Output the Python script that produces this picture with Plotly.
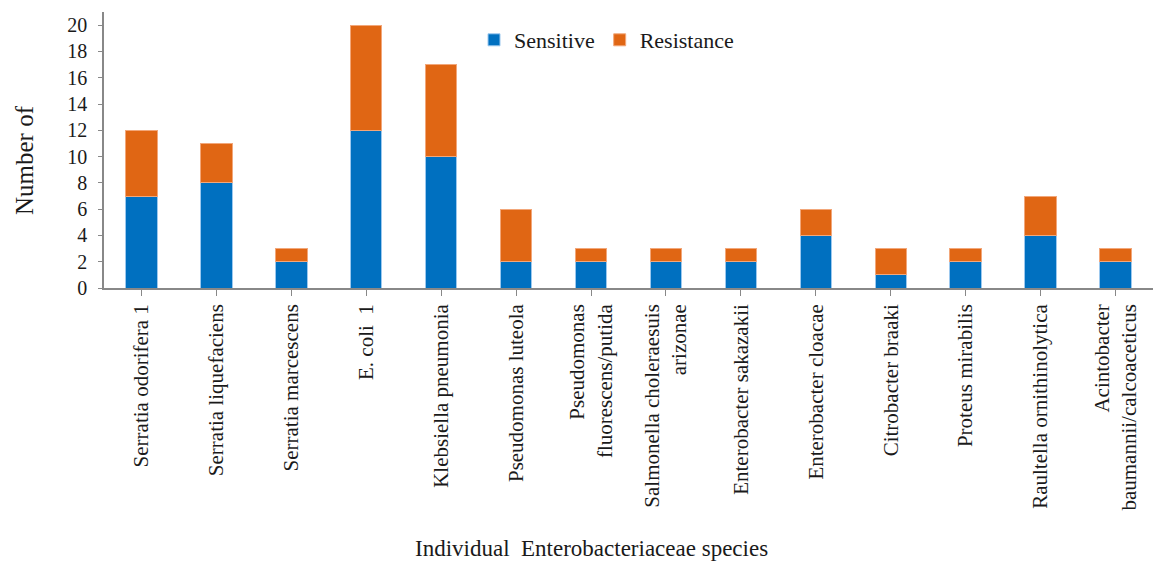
import plotly.graph_objects as go

categories = [
    "Serratia odorifera 1",
    "Serratia liquefaciens",
    "Serratia marcescens",
    "E. coli  1",
    "Klebsiella pneumonia",
    "Pseudomonas luteola",
    "Pseudomonas<br>fluorescens/putida",
    "Salmonella choleraesuis<br>arizonae",
    "Enterobacter sakazakii",
    "Enterobacter cloacae",
    "Citrobacter braaki",
    "Proteus mirabilis",
    "Raultella ornithinolytica",
    "Acintobacter<br>baumannii/calcoaceticus",
]
sensitive = [7, 8, 2, 12, 10, 2, 2, 2, 2, 4, 1, 2, 4, 2]
resistance = [5, 3, 1, 8, 7, 4, 1, 1, 1, 2, 2, 1, 3, 1]
y_ticks = [0, 2, 4, 6, 8, 10, 12, 14, 16, 18, 20]

FONT = "Liberation Serif"
TXT = "#1a1a1a"

fig = go.Figure()
fig.add_trace(go.Bar(x=categories, y=sensitive, name="Sensitive",
                     marker=dict(color="#0070C0", line=dict(color="#9CC8EE", width=1)),
                     width=0.42))
fig.add_trace(go.Bar(x=categories, y=resistance, name="Resistance",
                     marker=dict(color="#E06614", line=dict(color="#F2A77A", width=1)),
                     width=0.42))

fig.update_layout(
    barmode="stack",
    width=1153, height=561,
    margin=dict(l=104, r=0, t=12, b=273, autoexpand=False),
    paper_bgcolor="white", plot_bgcolor="white",
    font=dict(family=FONT, size=19, color=TXT),
    legend=dict(orientation="h", x=(474 - 104) / 1049, y=(288 - 40) / 276,
                xanchor="left", yanchor="middle",
                font=dict(family=FONT, size=22, color=TXT),
                itemwidth=30, traceorder="normal", bgcolor="rgba(0,0,0,0)"),
    xaxis=dict(
        type="category", range=[-0.5, 13.5], automargin=False,
        showline=True, linecolor="#888", linewidth=1.5,
        ticks="outside", ticklen=6, tickcolor="#888",
        tickangle=-90, tickfont=dict(family=FONT, size=21, color=TXT),
        showgrid=False,
    ),
    yaxis=dict(
        range=[0, 21], tickvals=y_ticks, automargin=False,
        showline=True, linecolor="#888", linewidth=1.5,
        ticks="outside", ticklen=4, tickcolor="#888",
        ticklabelstandoff=7,
        showgrid=False, zeroline=False,
        tickfont=dict(family=FONT, size=20, color=TXT),
    ),
    annotations=[
        dict(text="Individual  Enterobacteriaceae species", xref="paper", yref="paper",
             x=(591 - 104) / 1049, y=-(548 - 288) / 276, xanchor="center", yanchor="middle",
             showarrow=False, font=dict(family=FONT, size=23, color=TXT)),
        dict(text="Number of", xref="paper", yref="paper",
             x=-(104 - 25) / 1049, y=(288 - 160) / 276, xanchor="center", yanchor="middle",
             textangle=-90, showarrow=False, font=dict(family=FONT, size=25, color=TXT)),
    ],
)

fig.write_html(
    "out.html",
    config={"displayModeBar": False},
    post_script="document.body.style.margin='0';document.body.style.overflow='hidden';",
)
